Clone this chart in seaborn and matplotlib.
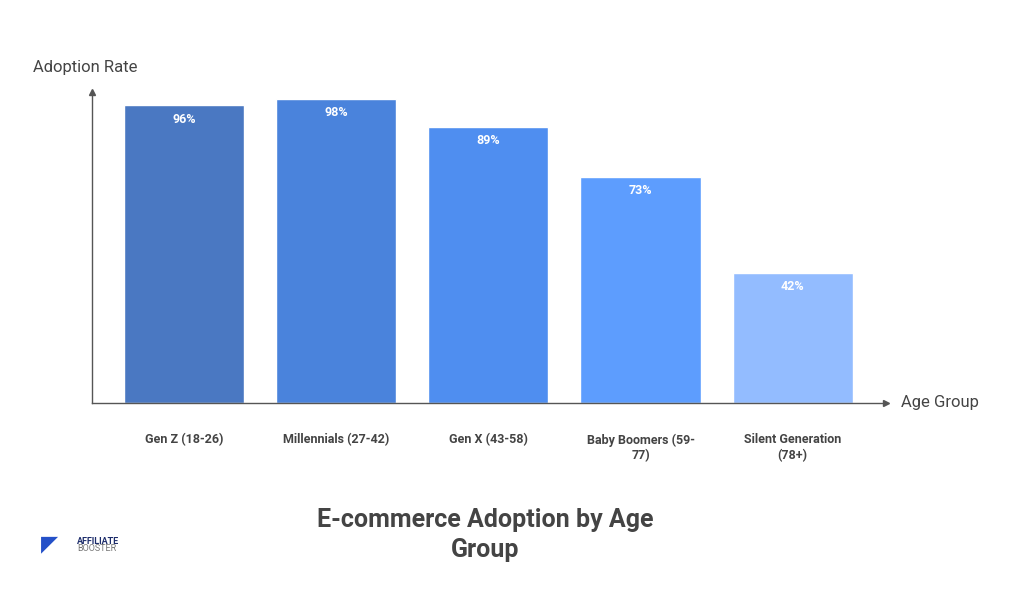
import matplotlib
matplotlib.use("Agg")
import matplotlib.pyplot as plt
import seaborn as sns
import pandas as pd

categories = ["Gen Z (18-26)", "Millennials (27-42)", "Gen X (43-58)", "Baby Boomers (59-\n77)", "Silent Generation\n(78+)"]
values = [96, 98, 89, 73, 42]
colors = ["#4a78c2", "#4a83dc", "#4f8ef0", "#5d9dfe", "#93bcff"]

sns.set_theme(style="white")
plt.rcParams['font.family'] = ['Roboto', 'DejaVu Sans']

fig = plt.figure(figsize=(10.24, 5.89), dpi=100)
ax = fig.add_axes([0.0898, 0.316, 0.775, 0.528])
df = pd.DataFrame({"cat": categories, "val": values})
sns.barplot(data=df, x="cat", y="val", hue="cat", palette=colors, width=0.79,
            legend=False, ax=ax, saturation=1)
ax.set_xlim(-0.605, 4.61)
ax.set_ylim(0, 100.3)
for i, v in enumerate(values):
    ax.text(i, v - 4.5, f"{v}%", ha="center", va="center", color="white",
            fontsize=9, fontweight="bold")
for s in ["top", "right"]:
    ax.spines[s].set_visible(False)
for s in ["left", "bottom"]:
    ax.spines[s].set_color("#555555")
    ax.spines[s].set_linewidth(1)
ax.plot(1, 0, ">", color="#555555", markersize=5, transform=ax.transAxes, clip_on=False)
ax.plot(0, 1, "^", color="#555555", markersize=5, transform=ax.transAxes, clip_on=False)
ax.set_yticks([])
ax.set_xlabel("")
ax.set_ylabel("")
ax.tick_params(axis="x", length=0, pad=22)
for t in ax.get_xticklabels():
    t.set_fontsize(9); t.set_fontweight("bold"); t.set_color("#444444"); t.set_va("top")
fig.text(0.032, 0.878, "Adoption Rate", fontsize=12, color="#444444")
fig.text(0.88, 0.316, "Age Group", fontsize=12, color="#444444", va="center")
fig.text(0.474, 0.092, "E-commerce Adoption by Age\nGroup", ha="center", va="center",
         fontsize=18, fontweight="bold", color="#444444", linespacing=1.3)
fig.text(0.04, 0.075, "◤", fontsize=16, color="#2450c8", va="center")
fig.text(0.075, 0.081, "AFFILIATE", fontsize=6.5, fontweight="bold", color="#1d2d6b", va="center")
fig.text(0.075, 0.068, "BOOSTER", fontsize=6.5, color="#777777", va="center")
fig.savefig("out.png", dpi=100, facecolor="white")
